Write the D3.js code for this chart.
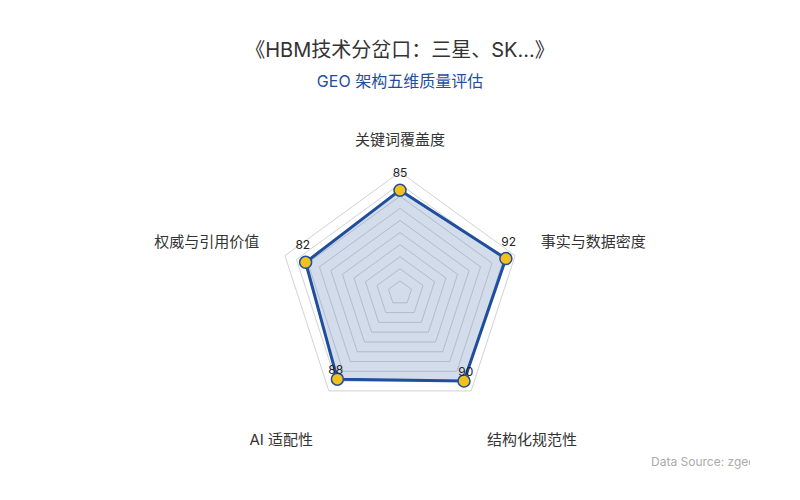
<!DOCTYPE html>
<html>
<head>
<meta charset="utf-8">
<script src="https://cdn.jsdelivr.net/npm/d3@7"></script>
<style>
  body { margin: 0; background: #fff; }
  svg { font-family: Inter, "Noto Sans CJK SC", sans-serif; }
</style>
</head>
<body>
<svg id="canvas" width="800" height="500"></svg>
<script>
"use strict";

const indicators = ["关键词覆盖度", "事实与数据密度", "结构化规范性", "AI 适配性", "权威与引用价值"];
const scores = [85, 92, 90, 88, 82];
const maxScore = 100;
const gridLevels = [10, 20, 30, 40, 50, 60, 70, 80, 90, 100];

const titleText = "《HBM技术分岔口：三星、SK...》";
const subtitleText = "GEO 架构五维质量评估";
const sourceText = "Data Source: zgeo.ai";

const svg = d3.select('#canvas');
const cx = 400, cy = 293, radius = 121;

const r = d3.scaleLinear().domain([0, maxScore]).range([0, radius]);
const angle = i => -Math.PI / 2 + i * 2 * Math.PI / indicators.length;
const pt = (i, v) => [cx + r(v) * Math.cos(angle(i)), cy + r(v) * Math.sin(angle(i))];

// title
svg.append('text')
    .attr('x', 400).attr('y', 57)
    .attr('text-anchor', 'middle')
    .attr('font-size', 20)
    .attr('fill', '#333')
    .text(titleText);

svg.append('text')
    .attr('x', 400).attr('y', 87)
    .attr('text-anchor', 'middle')
    .attr('font-size', 16)
    .attr('fill', '#1f4e9c')
    .text(subtitleText);

// grid rings
const ringLine = d3.line();
svg.append('g').selectAll('path')
    .data(gridLevels)
    .enter()
    .append('path')
    .attr('d', lvl => ringLine(indicators.map((d, i) => pt(i, lvl))) + 'Z')
    .attr('fill', 'none')
    .attr('stroke', '#e6e6e6')
    .attr('stroke-width', 1);

// data area
svg.append('path')
    .attr('d', ringLine(scores.map((v, i) => pt(i, v))) + 'Z')
    .attr('fill', 'rgba(31,78,156,0.2)')
    .attr('stroke', 'none');

// rings again on top of the fill (visible through it)
svg.append('g').selectAll('path')
    .data(gridLevels)
    .enter()
    .append('path')
    .attr('d', lvl => ringLine(indicators.map((d, i) => pt(i, lvl))) + 'Z')
    .attr('fill', 'none')
    .attr('stroke', 'rgba(150,160,180,0.25)')
    .attr('stroke-width', 1);

svg.append('path')
    .attr('d', ringLine(scores.map((v, i) => pt(i, v))) + 'Z')
    .attr('fill', 'none')
    .attr('stroke', '#1f4e9c')
    .attr('stroke-width', 3)
    .attr('stroke-linejoin', 'round');

// points
svg.append('g').selectAll('circle')
    .data(scores)
    .enter()
    .append('circle')
    .attr('cx', (v, i) => pt(i, v)[0])
    .attr('cy', (v, i) => pt(i, v)[1])
    .attr('r', 6)
    .attr('fill', '#f2c21b')
    .attr('stroke', '#1f4e9c')
    .attr('stroke-width', 1.5);

// value labels
svg.append('g').selectAll('text')
    .data(scores)
    .enter()
    .append('text')
    .attr('x', (v, i) => pt(i, v)[0] + Math.cos(angle(i)) * 3)
    .attr('y', (v, i) => pt(i, v)[1] + (Math.sin(angle(i)) > 0.5 ? -5 : -13))
    .attr('text-anchor', 'middle')
    .attr('font-size', 12)
    .attr('fill', '#222')
    .text(v => v);

// indicator names
const labR = 148;
svg.append('g').selectAll('text')
    .data(indicators)
    .enter()
    .append('text')
    .attr('x', (d, i) => cx + labR * Math.cos(angle(i)))
    .attr('y', (d, i) => {
        const s = Math.sin(angle(i));
        return cy + labR * s + (s > 0.5 ? 32 : 0);
    })
    .attr('text-anchor', (d, i) => {
        const c = Math.cos(angle(i));
        return Math.abs(c) < 0.01 ? 'middle' : (c > 0 ? 'start' : 'end');
    })
    .attr('font-size', 15)
    .attr('fill', '#333')
    .text(d => d);

// source
svg.append('clipPath').attr('id', 'srcClip')
    .append('rect').attr('x', 0).attr('y', 0).attr('width', 750).attr('height', 500);
svg.append('text')
    .attr('x', 651).attr('y', 466)
    .attr('font-size', 12)
    .attr('fill', '#aaa')
    .attr('clip-path', 'url(#srcClip)')
    .text(sourceText);
</script>
</body>
</html>
